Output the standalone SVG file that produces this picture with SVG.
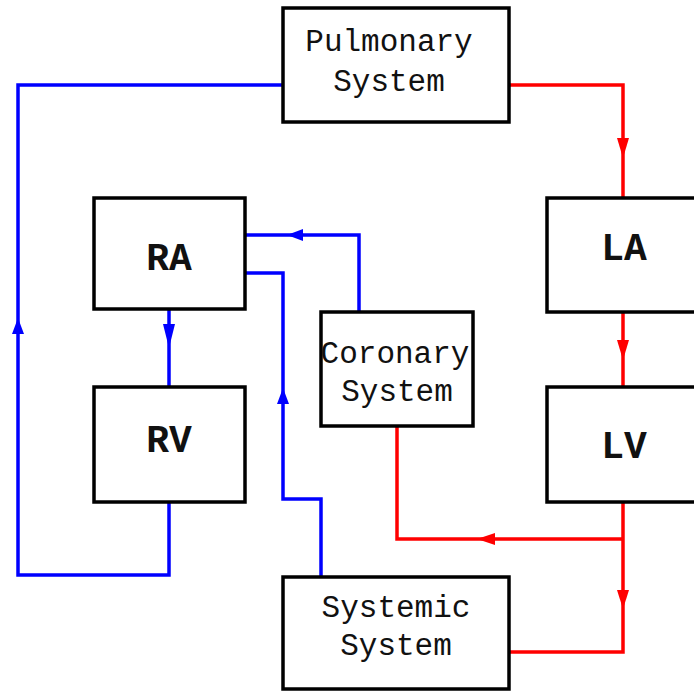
<svg xmlns="http://www.w3.org/2000/svg" width="694" height="691" viewBox="0 0 694 691">
<style>
.box{fill:#fff;stroke:#000;stroke-width:3.5}
.t{font-family:"Liberation Mono","Courier New",monospace;font-size:31px;text-anchor:middle;fill:#111}
.b{font-family:"Liberation Mono","Courier New",monospace;font-size:38px;font-weight:bold;text-anchor:middle;fill:#111}
.blue{fill:none;stroke:#0000ff;stroke-width:3.5}
.red{fill:none;stroke:#ff0000;stroke-width:3.5}
.ahb{fill:#0000ff}
.ahr{fill:#ff0000}
</style>
<rect width="694" height="691" fill="#fff"/>
<g id="connectors">
<path class="blue" d="M283,85 H18 V575 H169 V502"/>
<path class="blue" d="M169,309 V387"/>
<path class="blue" d="M359,312 V235 H245"/>
<path class="blue" d="M321,577 V499 H283 V273 H245"/>
<path class="red" d="M509,85 H623 V198"/>
<path class="red" d="M623,312 V387"/>
<path class="red" d="M623,502 V652 H509"/>
<path class="red" d="M623,539 H397 V426"/>
<polygon class="ahb" points="18,318 12,334 24,334"/>
<polygon class="ahb" points="169,348 163,324 175,324"/>
<polygon class="ahb" points="287,235 303,229 303,241"/>
<polygon class="ahb" points="283,388 277,404 289,404"/>
<polygon class="ahr" points="623,158 617,138 629,138"/>
<polygon class="ahr" points="623,360 617,340 629,340"/>
<polygon class="ahr" points="623,609 617,590 629,590"/>
<polygon class="ahr" points="477,539 495,533 495,545"/>
</g>
<g id="pulmonary">
<rect class="box" x="283" y="8" width="226" height="114"/>
<text class="t" x="389" y="51">Pulmonary</text>
<text class="t" x="389" y="91">System</text>
</g>
<g id="ra">
<rect class="box" x="94" y="198" width="151" height="111"/>
<text class="b" x="169" y="270">RA</text>
</g>
<g id="rv">
<rect class="box" x="94" y="387" width="151" height="115"/>
<text class="b" x="169" y="452">RV</text>
</g>
<g id="la">
<rect class="box" x="547" y="198" width="160" height="114"/>
<text class="b" x="624" y="260">LA</text>
</g>
<g id="lv">
<rect class="box" x="547" y="387" width="160" height="115"/>
<text class="b" x="624" y="458">LV</text>
</g>
<g id="coronary">
<rect class="box" x="321" y="312" width="152" height="114"/>
<text class="t" x="395" y="363">Coronary</text>
<text class="t" x="397" y="401">System</text>
</g>
<g id="systemic">
<rect class="box" x="283" y="577" width="226" height="112"/>
<text class="t" x="396" y="617">Systemic</text>
<text class="t" x="396" y="655">System</text>
</g>
</svg>
